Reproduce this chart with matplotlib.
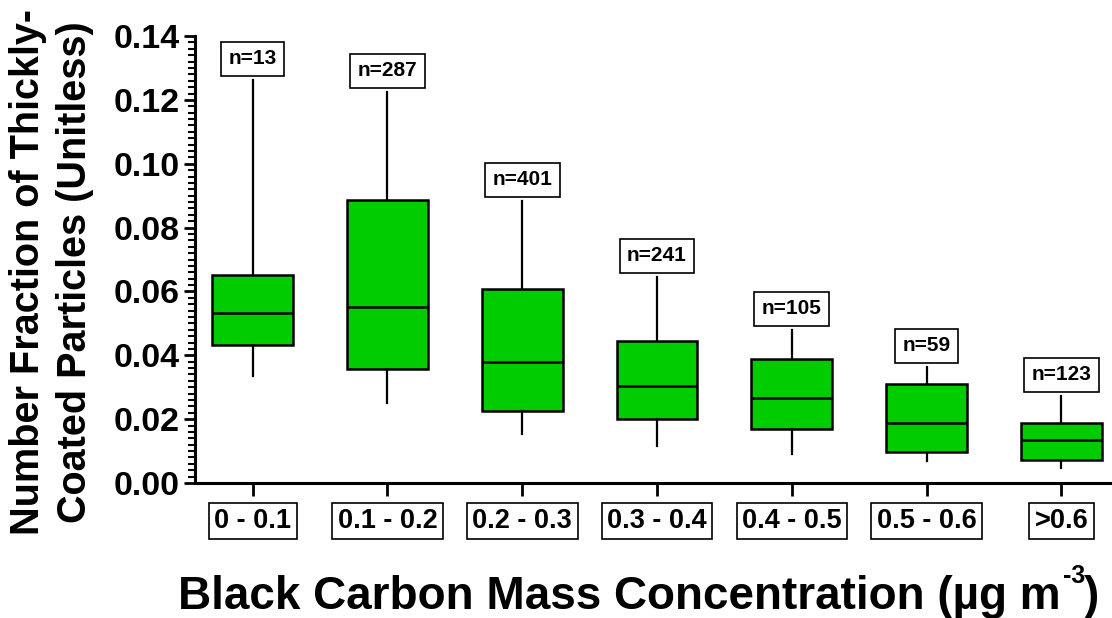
import numpy as np
import matplotlib.pyplot as plt
from matplotlib.ticker import MultipleLocator
from matplotlib import font_manager

# Bins of black carbon mass concentration
bins = ['0 - 0.1', '0.1 - 0.2', '0.2 - 0.3', '0.3 - 0.4', '0.4 - 0.5', '0.5 - 0.6', '>0.6']
counts = [13, 287, 401, 241, 105, 59, 123]

# Box statistics
whisk_lo = [0.0335, 0.0250, 0.0153, 0.0116, 0.0091, 0.0069, 0.0047]
q1 = [0.0432, 0.0357, 0.0225, 0.0200, 0.0169, 0.0097, 0.0072]
med = [0.0532, 0.0551, 0.0379, 0.0304, 0.0266, 0.0188, 0.0135]
q3 = [0.0651, 0.0886, 0.0607, 0.0445, 0.0388, 0.0310, 0.0188]
whisk_hi = [0.1262, 0.1224, 0.0883, 0.0645, 0.0479, 0.0363, 0.0272]

font = 'Liberation Sans'
narrow = font
names = {f.name for f in font_manager.fontManager.ttflist}
if 'Liberation Sans Narrow' in names:
    narrow = 'Liberation Sans Narrow'
plt.rcParams['font.family'] = font
plt.rcParams['font.weight'] = 'bold'

fig = plt.figure(figsize=(11.12, 6.18), dpi=100)
ax = fig.add_axes([0.175, 0.2184, 0.825, 0.7233])

stats = []
for i in range(len(bins)):
    stats.append(dict(whislo=whisk_lo[i], q1=q1[i], med=med[i], q3=q3[i],
                      whishi=whisk_hi[i], fliers=[], label=bins[i]))

pos = np.arange(len(bins))
ax.bxp(stats, positions=pos, widths=0.6, patch_artist=True, showcaps=False,
       showfliers=False,
       boxprops=dict(facecolor='#00cc00', edgecolor='black', linewidth=1.8),
       medianprops=dict(color='black', linewidth=1.8),
       whiskerprops=dict(color='black', linewidth=1.6))

for i in range(len(bins)):
    ax.annotate('n=%d' % counts[i], xy=(pos[i], whisk_hi[i]), xytext=(0, 8.5),
                textcoords='offset points', ha='center', va='bottom',
                fontsize=15, fontweight='bold',
                bbox=dict(boxstyle='square,pad=0.36', facecolor='white',
                          edgecolor='black', linewidth=1.2))

ax.set_xlim(-0.431, 6.376)
ax.set_ylim(0, 0.14)
ax.yaxis.set_major_locator(MultipleLocator(0.02))
ax.yaxis.set_minor_locator(MultipleLocator(0.002))
ax.yaxis.set_major_formatter(plt.FuncFormatter(lambda v, p: '%.2f' % v))

ax.spines['top'].set_visible(False)
ax.spines['right'].set_visible(False)
ax.spines['left'].set_linewidth(2.2)
ax.spines['bottom'].set_linewidth(2.2)

ax.tick_params(axis='y', which='major', length=8, width=2, labelsize=24.5, pad=3)
ax.tick_params(axis='y', which='minor', length=5, width=1.5)
ax.tick_params(axis='x', which='major', length=9, width=2, labelsize=19.5, pad=9)
ax.set_xticks(pos)
ax.set_xticklabels(bins)
for lbl in ax.get_xticklabels():
    lbl.set_fontweight('bold')
    lbl.set_bbox(dict(boxstyle='square,pad=0.2', facecolor='white',
                      edgecolor='black', linewidth=1.2))
for lbl in ax.get_yticklabels():
    lbl.set_fontweight('bold')

fig.text(0.0465, 0.56, 'Number Fraction of Thickly-\nCoated Particles (Unitless)',
         rotation=90, ha='center', va='center', fontsize=28.5, fontweight='bold',
         linespacing=1.3)

# x label: main text, small raised "-3", closing bracket
r = fig.canvas.get_renderer()
xl = fig.text(178 / 1112, 9 / 618, 'Black Carbon Mass Concentration (µg m',
              ha='left', va='baseline', fontsize=33, fontweight='bold', family=narrow)
ext = xl.get_window_extent(r)
sup = fig.text((ext.x1 + 2) / 1112, 35 / 618, '-3', ha='left', va='baseline',
               fontsize=18, fontweight='bold', family=narrow)
ext2 = sup.get_window_extent(r)
fig.text((ext2.x1 - 1) / 1112, 9 / 618, ')', ha='left', va='baseline',
         fontsize=33, fontweight='bold', family=narrow)

fig.savefig('out.png', dpi=100)
